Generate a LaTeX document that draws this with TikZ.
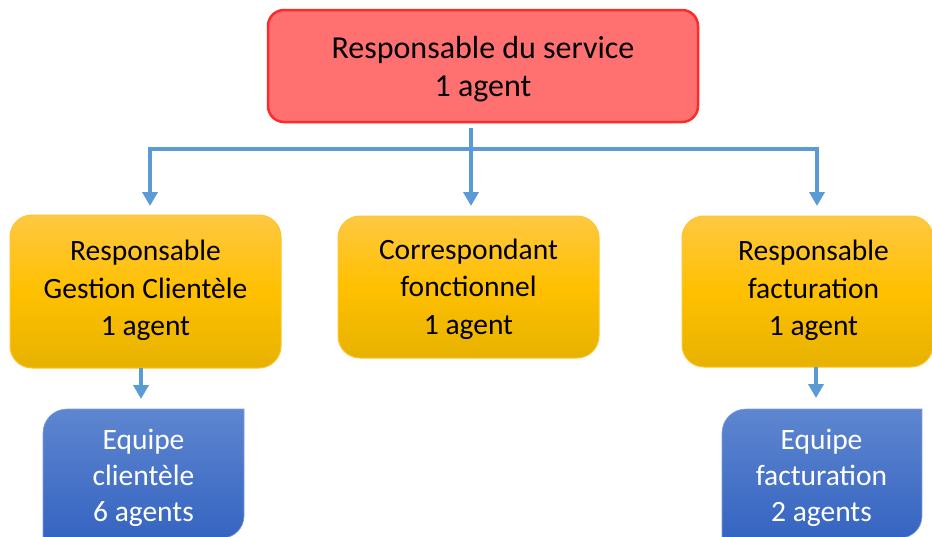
\documentclass[tikz,border=0pt]{standalone}
\usepackage{fontspec}
\setmainfont{Carlito}
\usetikzlibrary{arrows.meta}
\definecolor{connc}{HTML}{5B9BD5}
\definecolor{redfill}{HTML}{FF7171}
\definecolor{redline}{HTML}{FF2B2B}
\definecolor{yeltop}{HTML}{FFC842}
\definecolor{yelmid}{HTML}{FFC000}
\definecolor{yelbot}{HTML}{E6B200}
\definecolor{yelline}{HTML}{FFC52E}
\definecolor{bluetop}{HTML}{5E86D0}
\definecolor{bluebot}{HTML}{3362C0}
\begin{document}
\begin{tikzpicture}[x=1pt,y=-1pt,
  txt/.style={align=center,font=\fontsize{29.5}{37.5}\selectfont,inner sep=0pt},
  redbox/.style={txt,font=\fontsize{32}{38}\selectfont,draw=redline,line width=2.5pt,fill=redfill,rounded corners=16pt},
  yelbox/.style={txt,draw=yelline,line width=1pt,top color=yeltop,bottom color=yelbot,middle color=yelmid,rounded corners=22pt},
  bluetxt/.style={txt,font=\fontsize{29.5}{36}\selectfont,text=white},
  blueshape/.style={top color=bluetop,bottom color=bluebot,draw=bluetop!80!white,line width=0.6pt},
  conn/.style={draw=connc,line width=3.5pt,-{Triangle[width=15pt,length=14pt]}}]
\useasboundingbox (0,0) rectangle (932,536);
\clip (0,0) rectangle (932,536);
\fill[white] (0,0) rectangle (932,536);

\node[redbox,minimum width=430pt,minimum height=112pt] (top) at (483,66) {};
\node[redbox,draw=none,fill=none] (toptxt) at (483,69) {Responsable du service\\1 agent};

\node[yelbox,minimum width=271pt,minimum height=153pt] (left) at (145.5,291.5) {};
\node[txt] (lefttxt) at (145.5,290.5) {Responsable\\Gestion Clientèle\\1 agent};
\node[yelbox,minimum width=261pt,minimum height=142pt] (mid) at (468.5,287) {};
\node[txt] (midtxt) at (468.5,289) {Correspondant\\fonctionnel\\1 agent};
\node[yelbox,minimum width=251pt,minimum height=151pt] (right) at (807.5,291.5) {};
\node[txt] (righttxt) at (813.5,290.5) {Responsable\\facturation\\1 agent};

% blue boxes (round diagonal corners)
\path[blueshape] (43,545) [rounded corners=24pt] -- (43,409) [sharp corners] -- (244,409) [rounded corners=22pt] -- (244,538) [sharp corners] -- (43,538) -- cycle;
\path[blueshape] (722,545) [rounded corners=24pt] -- (722,409) [sharp corners] -- (922,409) [rounded corners=22pt] -- (922,538) [sharp corners] -- (722,538) -- cycle;
\node[bluetxt] (eqC) at (143.5,477.5) {Equipe\\clientèle\\6 agents};
\node[bluetxt] (eqF) at (821.5,477.5) {Equipe\\facturation\\2 agents};

% connectors
\coordinate (hub) at (471,149);
\coordinate (src) at (471,128);
\coordinate (tL) at (150,206);
\coordinate (tM) at (471,206);
\coordinate (tR) at (817,206);
\draw[conn] (src) -- (tM);
\draw[conn] (hub) -| (tL);
\draw[conn] (hub) -| (tR);
\coordinate (sL) at (141,368);
\coordinate (eL) at (141,399);
\coordinate (sR) at (816,367);
\coordinate (eR) at (816,398);
\draw[conn] (sL) -- (eL);
\draw[conn] (sR) -- (eR);
\end{tikzpicture}
\end{document}
